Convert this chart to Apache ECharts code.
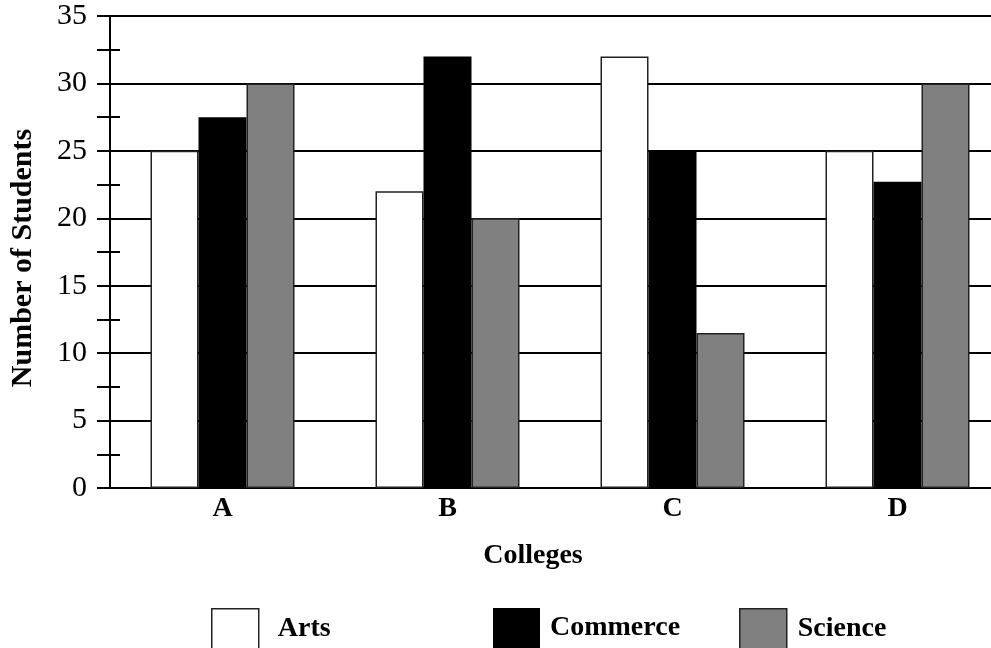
<!DOCTYPE html>
<html>
<head>
<meta charset="utf-8">
<script src="https://cdn.jsdelivr.net/npm/echarts@6/dist/echarts.min.js"></script>
<style>html,body{margin:0;padding:0;background:#fff;}#chart{width:991px;height:648px;}</style>
</head>
<body>
<div id="chart"></div>
<script>
var categories = ['A', 'B', 'C', 'D'];
var arts = [25, 22, 32, 25];
var commerce = [27.5, 32, 25, 22.7];
var science = [30, 20, 11.5, 30];
var yTicks = [0, 5, 10, 15, 20, 25, 30, 35];

var FONT = 'Liberation Serif';
var chart = echarts.init(document.getElementById('chart'));

function legend(name, left, pad, style) {
  return {
    left: left, top: 608, padding: 0,
    itemWidth: 47, itemHeight: 40, icon: 'rect',
    data: [{ name: name, itemStyle: style }],
    textStyle: { fontFamily: FONT, fontWeight: 'bold', fontSize: 28, color: '#000', padding: [0, 0, 0, pad] }
  };
}

var artsStyle = { color: '#fff', borderColor: '#222', borderWidth: 1.5 };
var comStyle = { color: '#000', borderColor: '#000', borderWidth: 0 };
var sciStyle = { color: '#808080', borderColor: '#222', borderWidth: 1.5 };

chart.setOption({
  animation: false,
  backgroundColor: '#fff',
  grid: { left: 110, top: 16, width: 900, height: 472, containLabel: false, outerBoundsMode: 'none' },
  legend: [
    legend('Arts', 211, 14, artsStyle),
    legend('Commerce', 493, 5, comStyle),
    legend('Science', 739, 6, sciStyle)
  ],
  xAxis: {
    type: 'category',
    data: categories,
    axisLine: { lineStyle: { color: '#000', width: 2 } },
    axisTick: { show: false },
    axisLabel: { fontFamily: FONT, fontWeight: 'bold', fontSize: 28, color: '#000', margin: 7 },
    splitLine: { show: false }
  },
  yAxis: [{
    type: 'value', min: yTicks[0], max: yTicks[yTicks.length - 1], interval: 5, position: 'left',
    axisLine: { show: true, lineStyle: { color: '#000', width: 2 } },
    axisTick: { show: true, inside: false, length: 13, lineStyle: { color: '#000', width: 2 } },
    minorTick: { show: true, splitNumber: 2, length: 13, lineStyle: { color: '#000', width: 2 } },
    axisLabel: { fontFamily: FONT, fontSize: 30, color: '#000', margin: 23 },
    splitLine: { show: true, lineStyle: { color: '#000', width: 2 } }
  }, {
    type: 'value', min: yTicks[0], max: yTicks[yTicks.length - 1], interval: 2.5, position: 'left',
    axisLine: { show: false },
    axisTick: { show: true, inside: true, length: 10, lineStyle: { color: '#000', width: 2 } },
    axisLabel: { show: false },
    splitLine: { show: false }
  }],
  graphic: [
    { type: 'text', x: 23, y: 258, rotation: Math.PI / 2,
      style: { text: 'Number of Students', font: 'bold 30px "Liberation Serif"', fill: '#000', textAlign: 'center', textVerticalAlign: 'middle' } },
    { type: 'text', x: 533, y: 556,
      style: { text: 'Colleges', font: 'bold 28px "Liberation Serif"', fill: '#000', textAlign: 'center', textVerticalAlign: 'middle' } }
  ],
  series: [
    { name: 'Arts', type: 'bar', data: arts, barWidth: 48, barGap: '0%', itemStyle: artsStyle },
    { name: 'Commerce', type: 'bar', data: commerce, barWidth: 48, barGap: '0%', itemStyle: comStyle },
    { name: 'Science', type: 'bar', data: science, barWidth: 48, barGap: '0%', itemStyle: sciStyle }
  ]
});
</script>
</body>
</html>
